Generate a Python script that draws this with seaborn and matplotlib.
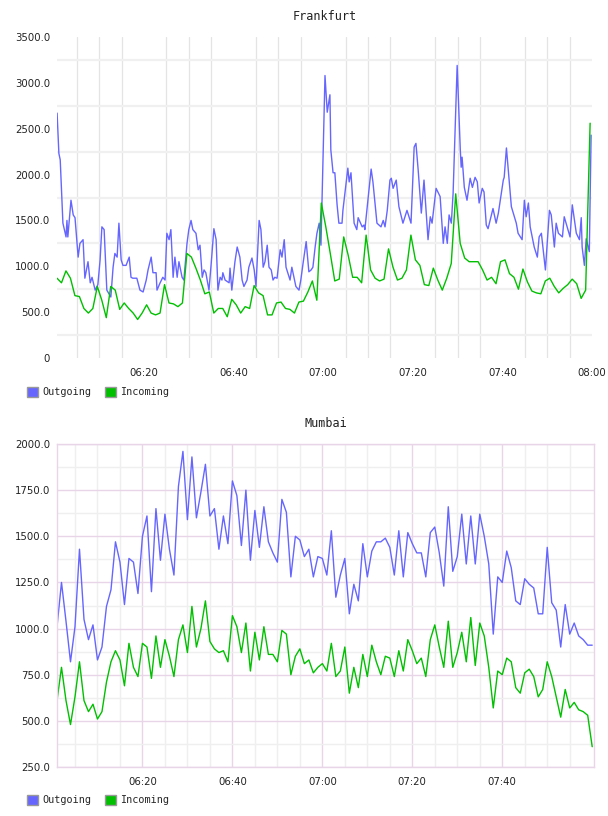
import numpy as np
import pandas as pd
import seaborn as sns
import matplotlib.pyplot as plt
from matplotlib.patches import Patch
from matplotlib.ticker import FuncFormatter

# Frankfurt, outgoing: minutes after 06:00 and values
fra_out_min = [0.6, 1.0, 1.3, 1.9, 2.6, 2.8, 3.0, 3.7, 4.2, 4.6, 5.3, 5.7, 6.4, 6.8, 7.5, 8.0, 8.4, 9.1, 9.7,
               10.2, 10.6, 11.1, 11.7, 12.6, 13.1, 13.5, 14.0, 14.4, 14.9, 15.3, 16.0, 16.7, 17.1, 17.5, 18.4,
               19.1, 19.8, 20.5, 20.9, 21.6, 22.0, 22.7, 22.9, 23.6, 24.2, 24.7, 25.1, 25.6, 26.0, 26.5, 26.9,
               27.4, 27.8, 28.5, 28.9, 29.6, 30.0, 30.5, 30.9, 31.6, 32.1, 32.5, 33.0, 33.4, 33.8, 34.5, 35.0,
               35.6, 36.1, 36.5, 37.0, 37.4, 37.6, 38.1, 39.0, 39.2, 39.6, 40.3, 40.8, 41.4, 41.9, 42.3, 43.0,
               43.4, 44.1, 44.6, 45.0, 45.7, 46.1, 46.6, 47.0, 47.5, 47.9, 48.4, 48.8, 49.2, 49.7, 50.4, 50.8,
               51.3, 51.7, 52.6, 53.0, 53.5, 53.9, 54.6, 55.0, 55.5, 56.2, 56.8, 57.3, 57.7, 58.2, 58.6, 59.1,
               59.5, 60.4, 60.9, 61.5, 61.7, 62.2, 62.6, 63.1, 63.5, 64.2, 64.4, 65.5, 65.8, 66.2, 66.9, 67.5,
               67.8, 68.7, 69.1, 69.3, 70.7, 71.1, 72.0, 72.9, 73.4, 73.8, 74.3, 74.9, 75.2, 75.6, 76.3, 76.9,
               77.8, 78.7, 79.6, 80.3, 80.7, 81.2, 81.9, 82.5, 83.4, 83.9, 84.3, 85.2, 86.1, 86.8, 87.2, 87.7,
               88.1, 88.6, 89.0, 89.9, 90.6, 90.8, 91.0, 91.5, 92.1, 92.8, 93.3, 93.9, 94.4, 94.8, 95.5, 95.9,
               96.4, 96.8, 97.9, 98.6, 99.1, 100.2, 100.4, 100.9, 102.0, 103.1, 103.5, 104.4, 104.9, 105.3,
               105.8, 106.2, 107.1, 107.8, 108.2, 108.7, 109.6, 110.5, 110.9, 111.6, 112.0, 112.5, 113.4,
               113.8, 115.1, 115.6, 116.5, 117.2, 117.6, 117.8, 118.3, 118.7, 119.4, 119.8]
fra_out = [2670, 2230, 2160, 1470, 1320, 1500, 1320, 1720, 1560, 1530, 1100, 1250, 1290, 870, 1050, 820, 880,
           740, 800, 1070, 1430, 1400, 740, 665, 990, 1140, 1100, 1470, 1070, 1010, 1010, 1100, 880, 870, 870,
           740, 720, 850, 960, 1100, 930, 930, 740, 820, 880, 850, 1360, 1290, 1400, 880, 1100, 880, 1050, 880,
           850, 1250, 1400, 1500, 1400, 1360, 1180, 1230, 880, 960, 930, 740, 1030, 1410, 1290, 740, 880, 850,
           930, 850, 820, 980, 740, 1050, 1210, 1100, 850, 780, 850, 990, 1090, 960, 780, 1500, 1400, 990, 1050,
           1230, 990, 960, 850, 880, 870, 1180, 1100, 1290, 990, 850, 990, 870, 780, 740, 850, 1030, 1270, 940,
           960, 990, 1210, 1360, 1470, 1230, 3080, 2680, 2870, 2270, 2020, 2020, 1670, 1470, 1470, 1610, 2070,
           1920, 2020, 1470, 1400, 1530, 1430, 1450, 1400, 2060, 1920, 1470, 1430, 1500, 1430, 1610, 1940, 1960,
           1850, 1940, 1650, 1470, 1610, 1470, 2300, 2340, 2050, 1580, 1940, 1290, 1540, 1470, 1850, 1760, 1250,
           1430, 1250, 1560, 1470, 1800, 3190, 2270, 2080, 2190, 1860, 1720, 1960, 1860, 1970, 1920, 1690, 1850,
           1810, 1450, 1410, 1630, 1470, 1580, 1940, 1970, 2290, 1650, 1470, 1360, 1290, 1720, 1540, 1690, 1430,
           1210, 1100, 1320, 1360, 960, 1610, 1560, 1210, 1470, 1360, 1320, 1540, 1320, 1670, 1360, 1290, 1530,
           1210, 1010, 1300, 1160, 2430]

# Frankfurt, incoming: one value per minute from 06:00:35
fra_in_start = 0.58
fra_in = [870, 820, 950, 870, 680, 670, 540, 490, 540, 780, 630, 440, 780, 740, 530, 600, 540, 490, 420, 490,
          580, 490, 470, 490, 800, 600, 590, 560, 600, 1140, 1100, 980, 850, 700, 720, 490, 540, 540, 450, 640,
          580, 490, 560, 540, 790, 710, 680, 470, 470, 600, 610, 540, 530, 490, 610, 620, 720, 840, 630, 1690,
          1430, 1140, 840, 860, 1320, 1120, 880, 880, 820, 1340, 960, 870, 840, 860, 1190, 990, 850, 870, 960,
          1340, 1070, 1010, 800, 790, 980, 850, 740, 870, 1030, 1790, 1250, 1090, 1050, 1050, 1050, 960, 850,
          880, 810, 1050, 1070, 920, 880, 750, 970, 830, 730, 710, 700, 840, 870, 780, 710, 760, 800, 860, 810,
          650, 740, 2560]

# Mumbai: one value per minute from 06:01
mum_start = 1.0
mum_out = [1010, 1250, 1040, 820, 1010, 1430, 1050, 940, 1020, 830, 900, 1120, 1210, 1470, 1360, 1130, 1380,
           1360, 1190, 1500, 1610, 1200, 1650, 1370, 1620, 1430, 1290, 1770, 1960, 1590, 1930, 1600, 1740, 1890,
           1610, 1650, 1430, 1610, 1460, 1800, 1720, 1450, 1750, 1370, 1640, 1440, 1660, 1470, 1410, 1360, 1700,
           1630, 1280, 1500, 1480, 1390, 1430, 1280, 1390, 1380, 1290, 1530, 1170, 1290, 1380, 1080, 1240, 1150,
           1460, 1280, 1420, 1470, 1470, 1490, 1440, 1290, 1530, 1280, 1520, 1460, 1410, 1410, 1280, 1520, 1550,
           1410, 1230, 1660, 1310, 1390, 1620, 1350, 1610, 1350, 1620, 1500, 1350, 970, 1280, 1250, 1420, 1330,
           1150, 1130, 1270, 1240, 1220, 1080, 1080, 1440, 1140, 1100, 900, 1130, 970, 1030, 960, 940, 910, 910]
mum_in = [610, 790, 610, 480, 630, 820, 610, 550, 590, 510, 550, 710, 820, 880, 830, 690, 920, 790, 740, 920,
          900, 730, 960, 790, 940, 850, 740, 940, 1020, 870, 1120, 900, 1000, 1150, 930, 890, 870, 880, 820, 1070,
          1010, 870, 1030, 770, 980, 830, 1010, 860, 860, 820, 990, 970, 750, 850, 890, 810, 830, 760, 790, 810,
          770, 920, 740, 770, 900, 650, 790, 680, 860, 740, 910, 820, 750, 850, 840, 740, 880, 770, 940, 880, 810,
          840, 740, 940, 1020, 900, 790, 1040, 790, 870, 980, 820, 1060, 800, 1030, 960, 790, 570, 770, 750, 840,
          820, 680, 650, 760, 780, 740, 630, 670, 820, 740, 630, 520, 670, 570, 600, 560, 550, 530, 360]

series_names = ["Outgoing", "Incoming"]
colors = {"Outgoing": "#6666ff", "Incoming": "#00c000"}

df_fra = pd.concat([
    pd.DataFrame({"minute": fra_out_min, "value": fra_out, "series": "Outgoing"}),
    pd.DataFrame({"minute": fra_in_start + np.arange(len(fra_in)), "value": fra_in, "series": "Incoming"}),
])
mum_min = mum_start + np.arange(len(mum_out))
df_mum = pd.concat([
    pd.DataFrame({"minute": mum_min, "value": mum_out, "series": "Outgoing"}),
    pd.DataFrame({"minute": mum_min, "value": mum_in, "series": "Incoming"}),
])

sns.set_style("white")
plt.rcParams["font.family"] = ["DejaVu Sans"]


def hhmm(m, pos=None):
    m = int(round(m))
    return f"{6 + m // 60:02d}:{m % 60:02d}"


def yfmt(v, pos=None):
    return "0" if v == 0 else f"{v:.1f}"


fig = plt.figure(figsize=(6.08, 8.16), dpi=100)
ax1 = fig.add_axes([57 / 608, 1 - 358 / 816, 535 / 608, 321 / 816])
ax2 = fig.add_axes([57 / 608, 1 - 767 / 816, 537 / 608, 323 / 816])

for ax, df in [(ax1, df_fra), (ax2, df_mum)]:
    sns.lineplot(data=df, x="minute", y="value", hue="series", hue_order=series_names, palette=colors,
                 estimator=None, sort=False, linewidth=1.0, legend=False, ax=ax)
    ax.set_xlabel("")
    ax.set_ylabel("")
    ax.xaxis.set_major_formatter(FuncFormatter(hhmm))
    ax.yaxis.set_major_formatter(FuncFormatter(yfmt))
    ax.tick_params(which="both", length=0, labelsize=7.3, colors="#222222")
    ax.tick_params(axis="x", pad=7)
    ax.tick_params(axis="y", pad=5)
    ax.set_axisbelow(True)

# Frankfurt axes
ax1.set_xlim(fra_in_start, 120)
ax1.set_ylim(0, 3500)
ax1.set_xticks(range(20, 121, 20))
ax1.set_xticks(range(5, 121, 5), minor=True)
ax1.set_yticks(range(0, 3501, 500))
ax1.set_yticks(range(250, 3500, 500), minor=True)
ax1.grid(False)
ax1.grid(which="minor", axis="x", color="#e4e4e4", linewidth=0.9)
ax1.grid(which="minor", axis="y", color="#f0f0f0", linewidth=1.6)
for s in ax1.spines.values():
    s.set_visible(False)
ax1.set_title("Frankfurt", family="DejaVu Sans Mono", fontsize=8.5, color="#222222", pad=12)

# Mumbai axes
ax2.set_xlim(mum_start, mum_min[-1] + 0.4)
ax2.set_ylim(250, 2000)
ax2.set_xticks(range(20, 101, 20))
ax2.set_xticks([m for m in range(5, 120, 5) if m % 20], minor=True)
ax2.set_yticks(range(250, 2001, 250))
ax2.set_yticks(range(375, 2000, 250), minor=True)
ax2.grid(which="major", color="#e8d6e8", linewidth=1.0)
ax2.grid(which="minor", color="#efefef", linewidth=1.0)
for s in ax2.spines.values():
    s.set_color("#e8d6e8")
    s.set_linewidth(1.0)
ax2.set_title("Mumbai", family="DejaVu Sans Mono", fontsize=8.5, color="#222222", pad=12)

handles = [Patch(facecolor=colors[n], edgecolor="#999999", label=n) for n in series_names]
for ypix in (392, 800):
    fig.legend(handles=handles, loc="center left", bbox_to_anchor=(18 / 608, 1 - ypix / 816), ncol=2,
               frameon=False, handlelength=1.1, handleheight=1.1, handletextpad=0.4, columnspacing=1.3,
               prop={"family": "DejaVu Sans Mono", "size": 7.3})

fig.savefig("out.png", dpi=100)
